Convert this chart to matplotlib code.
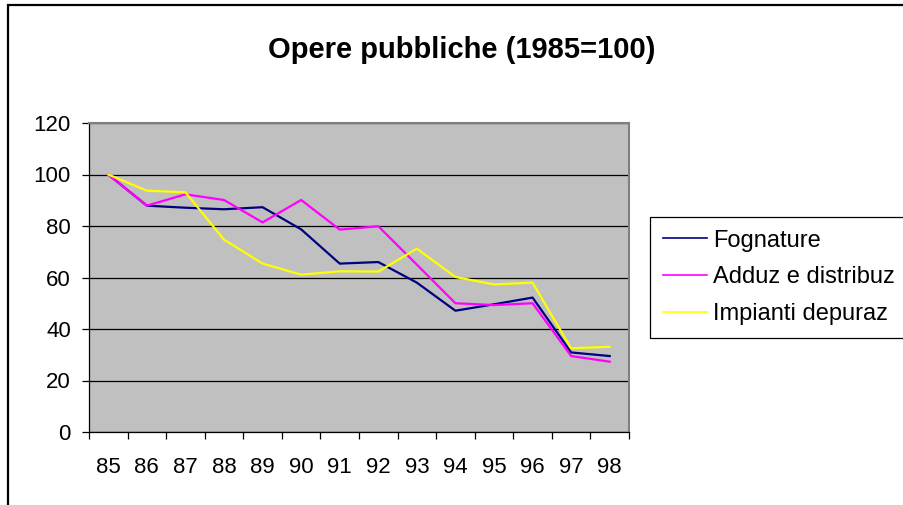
import matplotlib.pyplot as plt
from matplotlib.patches import Rectangle
from matplotlib.lines import Line2D

plt.rcParams["font.family"] = ["Liberation Sans", "DejaVu Sans"]

years = ["85", "86", "87", "88", "89", "90", "91", "92", "93", "94", "95", "96", "97", "98"]
fognature = [100, 87.9, 87.1, 86.5, 87.3, 78.7, 65.4, 66.0, 58.0, 47.1, 49.6, 52.2, 30.9, 29.5]
adduz = [100, 87.9, 92.3, 90.1, 81.4, 90.1, 78.6, 79.9, 65.0, 50.0, 49.3, 50.0, 29.5, 27.3]
impianti = [100, 93.7, 93.1, 74.7, 65.4, 61.1, 62.4, 62.3, 71.2, 60.2, 57.3, 58.0, 32.5, 33.1]

series = [
    ("Fognature", fognature, "#000080"),
    ("Adduz e distribuz", adduz, "#FF00FF"),
    ("Impianti depuraz", impianti, "#FFFF00"),
]

W, H = 904, 505
fig = plt.figure(figsize=(W / 100, H / 100), dpi=100)

# outer chart frame (right/bottom edges fall outside the picture)
fig.patches.append(Rectangle((8 / W, -0.1), 1.2, 1 - 5 / H + 0.1, transform=fig.transFigure,
                             fill=False, edgecolor="black", linewidth=1.6, zorder=0))

ax = fig.add_axes([89 / W, 1 - 432 / H, 540 / W, 309 / H])
ax.set_facecolor("#C0C0C0")

x = list(range(len(years)))
for label, values, color in series:
    ax.plot(x, values, color=color, linewidth=1.6, label=label, zorder=3)

ax.set_ylim(0, 120)
ax.set_yticks(range(0, 121, 20))
ax.yaxis.grid(True, color="black", linewidth=0.9)
ax.set_axisbelow(True)

ax.set_xlim(-0.5, len(years) - 0.5)
ax.set_xticks([i - 0.5 for i in range(len(years) + 1)])
ax.set_xticklabels([])
ax.set_xticks(x, minor=True)
ax.set_xticklabels(years, minor=True)
ax.tick_params(axis="x", which="major", direction="out", length=5, width=0.9)
ax.tick_params(axis="x", which="minor", length=0, pad=18, labelsize=16)
ax.tick_params(axis="y", direction="out", length=5, width=0.9, pad=8, labelsize=16)

for side in ("top", "right"):
    ax.spines[side].set_color("#808080")
    ax.spines[side].set_linewidth(1.5)
for side in ("left", "bottom"):
    ax.spines[side].set_color("black")
    ax.spines[side].set_linewidth(0.9)

fig.text(462 / W, 1 - 50 / H, "Opere pubbliche (1985=100)", ha="center", va="center",
         fontsize=21, fontweight="bold")

handles = [Line2D([], [], color=c, linewidth=1.2) for _, _, c in series]
leg = fig.legend(handles, [s[0] for s in series], loc="upper left",
                 bbox_to_anchor=(650 / W, 1 - 217 / H), fontsize=17, frameon=True,
                 fancybox=False, edgecolor="black", framealpha=1, borderpad=0.53,
                 labelspacing=0.63, handlelength=1.9, handletextpad=0.25, borderaxespad=0)
leg.get_frame().set_linewidth(0.9)

fig.savefig("out.png", dpi=100)
